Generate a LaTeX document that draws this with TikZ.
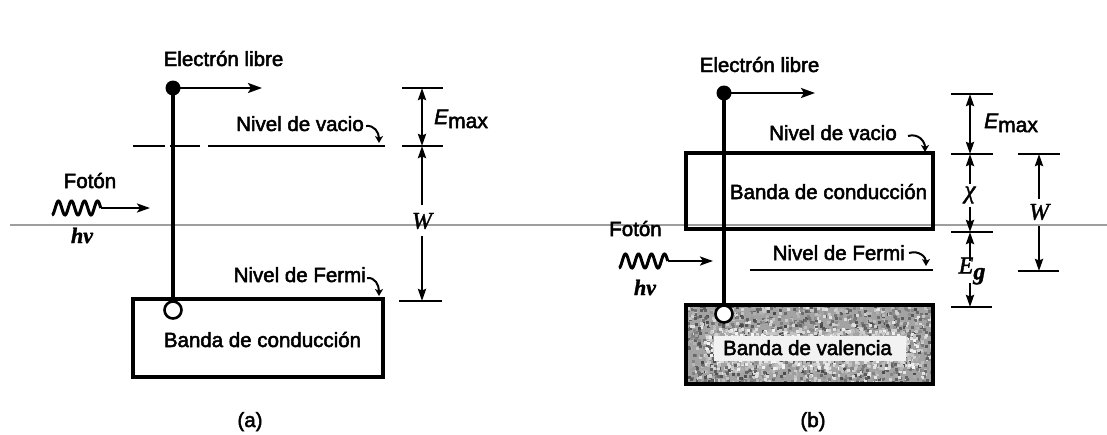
\documentclass[tikz,border=0pt]{standalone}
\usepackage{fontspec}
\setmainfont{Liberation Sans}
\newfontfamily\sanb[FakeBold=2.4]{Liberation Sans}
\newfontfamily\serifit[FakeBold=1.6]{Liberation Serif}
\usetikzlibrary{arrows.meta}
\begin{document}
\begin{tikzpicture}[x=1pt,y=-1pt,
  txt/.style={font=\sanb\fontsize{20.5}{24}\selectfont, inner sep=0pt, anchor=base},
  sym/.style={font=\fontsize{24}{26}\selectfont, inner sep=0pt},
  heavy/.style={line width=3.2pt},
  dimline/.style={line width=2.4pt},
  dimtip/.style={-{Stealth[length=12pt,width=8pt,inset=1.5pt]}},
  bothtip/.style={{Stealth[length=12pt,width=8pt,inset=1.5pt]}-{Stealth[length=12pt,width=8pt,inset=1.5pt]}},
  motion/.style={line width=2.4pt,-{Stealth[length=14pt,width=10pt,inset=3pt]}},
  curly/.style={line width=2pt,-{Stealth[length=7pt,width=8pt,inset=2pt]}},
  dotn/.style={circle,fill=black,minimum size=15pt,inner sep=0pt},
  holen/.style={circle,draw,line width=2.6pt,fill=white,minimum size=17pt,inner sep=0pt},
  bandbox/.style={draw,heavy,inner sep=0pt},
  tick/.style={line width=2.4pt},
  wave/.style={line width=3pt}
]
\useasboundingbox (0,0) rectangle (1107,434);
% gray guide line
\draw[black!38,line width=1.6pt] (10,225) -- (1107,225);

% ================= panel (a) =================
\node[bandbox,minimum width=250pt,minimum height=78pt] (bandA) at (258,338) {};
\node[txt] (tBandA) at (262.5,347) {Banda de conducción};
% vacuum level (dashed then solid)
\draw[line width=2.6pt] (133,146) -- (165,146);
\draw[line width=2.6pt] (170,146) -- (200,146);
\coordinate (vacAs) at (208,146);
\coordinate (vacAe) at (385,146);
\draw[line width=2.6pt] (vacAs) -- (vacAe);
% electron and hole
\node[holen] (hA) at (173,310) {};
\node[dotn] (eA) at (173,88) {};
\draw[heavy] (eA.center) -- (hA.north);
\coordinate (eAend) at (262,88);
\draw[motion] (eA.center) -- (eAend);
\node[txt] (tElA) at (223.5,66) {Electrón libre};
\node[txt,anchor=base east] (tVacA) at (364,131) {Nivel de vacio};
\node[txt,anchor=base east] (tFerA) at (366,282) {Nivel de Fermi};
\draw[curly] (366,126) .. controls (374,125) and (379,132) .. (379,143);
\draw[curly] (367,278) .. controls (375,277) and (379,285) .. (379,296);
% photon
\node[txt] (tFotA) at (90,188) {Fotón};
\coordinate (wA1) at (101,208);
\coordinate (wAtip) at (150,208);
\draw[wave] plot[domain=0:3.75,samples=90,smooth] ({52+13*\x},{208+7*cos(360*\x)});
\draw[line width=2.4pt,-{Stealth[length=13pt,width=9pt,inset=3pt]}] (wA1) -- (wAtip);
\node[sym,anchor=base,font=\fontsize{22}{24}\selectfont] (hvA) at (82,243) {\serifit\bfseries\itshape hν};
% dimensions
\draw[tick] (402,88) -- (443,88);
\draw[tick] (402,146) -- (443,146);
\draw[tick] (399,301) -- (442,301);
\coordinate (aT) at (422,88);
\coordinate (aM) at (422,146);
\coordinate (aB) at (422,301);
\coordinate (aWu) at (422,205);
\coordinate (aWd) at (422,236);
\draw[dimline,bothtip] (aT) -- (aM);
\draw[dimline,dimtip] (aWu) -- (aM);
\draw[dimline,dimtip] (aWd) -- (aB);
\node[sym] (WA) at (422,221) {\serifit\itshape W};
\node[sym,anchor=base west,font=\fontsize{21}{24}\selectfont] (EmA) at (434,124) {\sanb\itshape E\raisebox{-4pt}{\upshape max}};
\node[txt] (labA) at (250,427) {(a)};

% ================= panel (b) =================
% valence band texture
\pgfmathsetseed{4711}
\begin{scope}
\clip (686,305) rectangle (933,384);
\fill[black!36] (686,305) rectangle (933,384);
\foreach \i in {1,...,1800}{
  \pgfmathsetmacro\rx{686+247*rnd}
  \pgfmathsetmacro\ry{305+79*rnd}
  \pgfmathtruncatemacro\rs{10+62*rnd}
  \fill[black!\rs] (\rx,\ry) rectangle ++(3,3);
}
\foreach \i in {1,...,600}{
  \pgfmathsetmacro\rx{704+212*rnd}
  \pgfmathsetmacro\ry{328+40*rnd}
  \pgfmathtruncatemacro\rs{3+28*rnd}
  \fill[black!\rs] (\rx,\ry) rectangle ++(3,3);
}
\fill[black!5] (714,336) rectangle (906,361);
\end{scope}
\node[bandbox,minimum width=247pt,minimum height=79pt] (bandV) at (809.5,344.5) {};
\node[txt] (tBandV) at (807.5,355) {Banda de valencia};
% conduction band
\node[bandbox,minimum width=247pt,minimum height=76pt] (bandC) at (809.5,191) {};
\node[txt] (tBandC) at (828.5,199) {Banda de conducción};
% Fermi level
\coordinate (ferBs) at (750,270);
\coordinate (ferBe) at (933,270);
\draw[line width=2.6pt] (ferBs) -- (ferBe);
% electron and hole
\node[holen] (hB) at (724,314) {};
\node[dotn] (eB) at (724,93) {};
\draw[heavy] (eB.center) -- (hB.north);
\coordinate (eBend) at (815,93);
\draw[motion] (eB.center) -- (eBend);
\node[txt] (tElB) at (759.5,72) {Electrón libre};
\node[txt,anchor=base east] (tVacB) at (897,140) {Nivel de vacio};
\node[txt,anchor=base east] (tFerB) at (905,260) {Nivel de Fermi};
\draw[curly] (908,136) .. controls (918,133) and (925,141) .. (925,152);
\draw[curly] (909,253) .. controls (919,250) and (926,257) .. (926,266);
% photon
\node[txt] (tFotB) at (635.5,236) {Fotón};
\coordinate (wB1) at (668,261);
\coordinate (wBtip) at (713,261);
\draw[wave] plot[domain=0:3.75,samples=90,smooth] ({619+13*\x},{261+7*cos(360*\x)});
\draw[line width=2.4pt,-{Stealth[length=13pt,width=9pt,inset=3pt]}] (wB1) -- (wBtip);
\node[sym,anchor=base,font=\fontsize{22}{24}\selectfont] (hvB) at (645,295) {\serifit\bfseries\itshape hν};
% dimensions
\draw[tick] (951,94) -- (993,94);
\draw[tick] (951,154) -- (993,154);
\draw[tick] (951,232) -- (993,232);
\draw[tick] (951,307) -- (992,307);
\draw[tick] (1018,154) -- (1060,154);
\draw[tick] (1018,271) -- (1059,271);
\coordinate (bT) at (970,94);
\coordinate (bM) at (970,154);
\coordinate (bC) at (970,232);
\coordinate (bV) at (970,307);
\coordinate (bXu) at (970,184);
\coordinate (bXd) at (970,207);
\coordinate (bGu) at (970,261);
\coordinate (bGd) at (970,283);
\draw[dimline,bothtip] (bT) -- (bM);
\draw[dimline,dimtip] (bXu) -- (bM);
\draw[dimline,dimtip] (bXd) -- (bC);
\draw[dimline,dimtip] (bGu) -- (bC);
\draw[dimline,dimtip] (bGd) -- (bV);
\node[sym,font=\fontsize{25}{26}\selectfont] (chiB) at (970,195) {\serifit\itshape χ};
\node[sym] (EgB) at (972,271) {\serifit\itshape E\raisebox{-6pt}{\bfseries g}};
\coordinate (wT) at (1039,154);
\coordinate (wB) at (1039,271);
\coordinate (wWu) at (1039,199);
\coordinate (wWd) at (1039,226);
\draw[dimline,dimtip] (wWu) -- (wT);
\draw[dimline,dimtip] (wWd) -- (wB);
\node[sym] (WB) at (1039,212) {\serifit\itshape W};
\node[sym,anchor=base west,font=\fontsize{21}{24}\selectfont] (EmB) at (984,128) {\sanb\itshape E\raisebox{-4pt}{\upshape max}};
\node[txt] (labB) at (813,427) {(b)};
\end{tikzpicture}
\end{document}
